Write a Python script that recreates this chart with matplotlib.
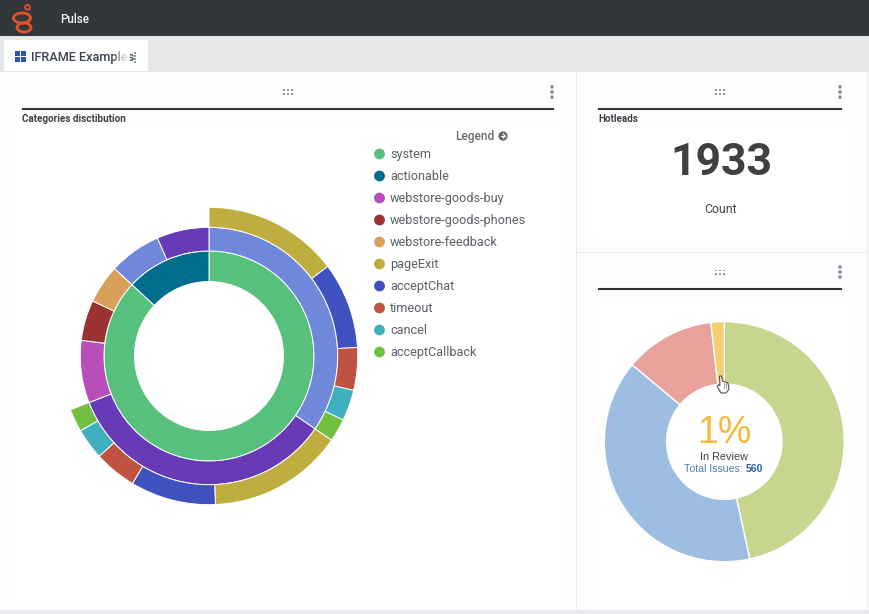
import matplotlib
matplotlib.use("Agg")
import matplotlib.pyplot as plt
from matplotlib.patches import Rectangle, Circle, Polygon, Ellipse

plt.rcParams['font.family'] = ['Roboto', 'DejaVu Sans']

W, H = 869, 614

# ---- data (in shares of a 360 unit whole) ----
legend_labels = ["system", "actionable", "webstore-goods-buy", "webstore-goods-phones",
                 "webstore-feedback", "pageExit", "acceptChat", "timeout", "cancel", "acceptCallback"]
legend_colors = ["#57c07c", "#006e8a", "#b84fb8", "#9a3232", "#d9a05b",
                 "#bfae3f", "#3f51bf", "#bf5240", "#40afbf", "#70bf40"]

ring1_values = [312.8, 47.2]
ring1_colors = ["#57c07c", "#006e8a"]

ring2_values = [124.5, 124.3, 28.2, 18.3, 17.5, 23.6, 23.6]
ring2_colors = ["#6f88d9", "#663bb5", "#b84fb8", "#9a3232", "#d9a05b", "#6f88d9", "#663bb5"]

ring3_values = [53.0, 33.7, 16.7, 12.1, 9.0, 53.0, 33.5, 16.6, 12.2, 9.0]
ring3_colors = ["#bfae3f", "#3f51bf", "#bf5240", "#40afbf", "#70bf40",
                "#bfae3f", "#3f51bf", "#bf5240", "#40afbf", "#70bf40"]

issue_values = [261, 221, 68, 10]
issue_colors = ["#c7d68e", "#9dbee2", "#e8a19b", "#f5cf6d"]

hotleads_value = "1933"
hotleads_label = "Count"
review_pct = "1%"
total_issues = "560"

fig = plt.figure(figsize=(W / 100, H / 100), dpi=100)
ax = fig.add_axes([0, 0, 1, 1])
ax.set_xlim(0, W)
ax.set_ylim(0, H)
ax.axis("off")


def Y(py):
    return H - py


def rect(x0, y0, x1, y1, color, z=1, alpha=None):
    ax.add_patch(Rectangle((x0, Y(y1)), x1 - x0, y1 - y0, fc=color, ec="none", zorder=z, alpha=alpha))


def hline(x0, x1, y, color, lw):
    ax.plot([x0, x1], [Y(y), Y(y)], color=color, lw=lw, solid_capstyle="butt", zorder=3)


def vline(x, y0, y1, color, lw):
    ax.plot([x, x], [Y(y0), Y(y1)], color=color, lw=lw, solid_capstyle="butt", zorder=3)


def txt(x, y, s, size, color, ha="left", z=6, **kw):
    ax.text(x, Y(y + 0.8), s, fontsize=size, color=color, ha=ha, va="center", zorder=z, **kw)


def grip(cx, cy):
    for dx in (-4, 0, 4):
        for dy in (-1.7, 1.7):
            ax.add_patch(Rectangle((cx + dx - 1.2, Y(cy + dy) - 0.8), 2.4, 1.6, fc="#8a94a3", ec="none", zorder=4))


def kebab(cx, cy):
    for dy in (-5, 0, 5):
        ax.add_patch(Circle((cx, Y(cy + dy)), 1.8, fc="#7f8ea0", ec="none", zorder=4))


# ---- page chrome ----
rect(0, 0, W, H, "#fdfdfe", 0)
rect(0, 0, W, 36, "#32373b")
rect(0, 36, W, 72, "#e5e7e7")
rect(4, 40, 148, 71, "#ffffff", 2)
rect(14, 125, 562, 597, "#ffffff", 1)
rect(593, 125, 850, 237, "#ffffff", 1)
rect(597, 300, 850, 597, "#ffffff", 1)
rect(0, 610, W, H, "#e9ebee", 2)
vline(575.5, 72, 610, "#e8eaf0", 0.72)
vline(866.5, 72, 610, "#e8eaf0", 0.72)
hline(575, 867, 251.5, "#e8eaf0", 0.72)

# logo
ax.add_patch(Ellipse((22, Y(18)), 17, 10, fc="none", ec="#e8502a", lw=2.0, zorder=5))
ax.add_patch(Ellipse((24, Y(27.5)), 14, 9, fc="none", ec="#e8502a", lw=2.0, zorder=5))
ax.add_patch(Circle((27.5, Y(7.3)), 2.4, fc="none", ec="#e8502a", lw=1.3, zorder=5))
txt(60, 19, "Pulse", 8.4, "#f2f2f2", weight="medium")

# tab
for (x, y) in [(15, 51), (21, 51), (15, 57), (21, 57)]:
    rect(x, y, x + 5, y + 5, "#2a55b5", 4)
txt(31, 57, "IFRAME Examples", 9.2, "#3b4450", z=4, weight="medium")
for i, a in enumerate([0.15, 0.3, 0.45, 0.6, 0.7, 0.8, 0.85, 0.9]):
    rect(114 + i * 2, 44, 116 + i * 2, 68, "#ffffff", 5, alpha=a)
for dy in (-5, -2, 1, 4):
    rect(134, 57 + dy, 135.5, 57 + dy + 1.5, "#7d9ac6", 5)

# panel headers
grip(288, 92)
kebab(552, 92)
hline(22, 554, 108.5, "#30343a", 1.5)
txt(22, 118, "Categories disctibution", 7.1, "#3d4147", weight="bold")

grip(720, 92)
kebab(840, 92)
hline(598, 842, 108.5, "#30343a", 1.5)
txt(598, 118, "Hotleads", 7.1, "#3d4147", weight="bold")

grip(720, 272)
kebab(840, 272)
hline(598, 842, 288.5, "#30343a", 1.5)

# ---- sunburst ----
cx, cy = 209, Y(356)
R0, R1, R2, R3 = 74.5, 105, 128.7, 148.7
for vals, cols, r_in, r_out in [(ring1_values, ring1_colors, R0, R1),
                                (ring2_values, ring2_colors, R1, R2),
                                (ring3_values, ring3_colors, R2, R3)]:
    ax.pie([v / 360 for v in vals], colors=cols, startangle=90, counterclock=False,
           radius=r_out, center=(cx, cy), normalize=False, frame=True,
           wedgeprops=dict(width=r_out - r_in, edgecolor="#ffffff", linewidth=0.7))

ax.set_xlim(0, W)
ax.set_ylim(0, H)
ax.set_aspect("auto")
ax.axis("off")

# ---- legend ----
txt(455, 135.5, "Legend", 8.6, "#666b70", weight="medium")
ax.add_patch(Circle((503, Y(136)), 4.6, fc="#5f6468", ec="none", zorder=5))
ax.plot([500.5, 505], [Y(136), Y(136)], color="white", lw=0.9, zorder=6)
ax.plot([503.2, 505.4, 503.2], [Y(134), Y(136), Y(138)], color="white", lw=0.9, zorder=6)
for i, (lab, col) in enumerate(zip(legend_labels, legend_colors)):
    py = 154 + i * 22
    ax.add_patch(Circle((379.5, Y(py)), 5.4, fc=col, ec="none", zorder=5))
    txt(390, py, lab, 9.1, "#5b5f66")

# ---- hotleads ----
txt(721, 162, hotleads_value, 32, "#404040", ha="center", weight="bold", stretch="condensed")
txt(721, 208.5, hotleads_label, 8.8, "#444444", ha="center")

# ---- donut ----
dx, dy = 724.3, Y(441.7)
ax.pie([v / sum(issue_values) for v in issue_values], colors=issue_colors, startangle=90,
       counterclock=False, radius=120, center=(dx, dy), frame=True,
       wedgeprops=dict(width=120 - 57.7, edgecolor="#ffffff", linewidth=1.0))
ax.set_xlim(0, W)
ax.set_ylim(0, H)
ax.set_aspect("auto")
ax.axis("off")

txt(724, 432, review_pct, 27, "#f6b93b", ha="center", family="Liberation Sans")
txt(724, 456, "In Review", 7.8, "#444444", ha="center", family="Liberation Sans")
txt(684, 468.5, "Total Issues:", 7.6, "#4d7fb8", family="Liberation Sans")
txt(746, 468.5, total_issues, 7.6, "#2d64a8", family="Liberation Sans", weight="bold")

# hand cursor
hand = [(719.5, 376), (721.5, 376), (722.5, 381), (728, 383), (729, 389), (726, 393), (721, 393),
        (717, 386), (719, 384.5), (720, 385.5)]
ax.add_patch(Polygon([(x, Y(y)) for x, y in hand], closed=True, fc="#ffffff", ec="#555555", lw=0.8, zorder=7))
for x in (723.5, 725.5):
    ax.plot([x, x], [Y(383), Y(388)], color="#777777", lw=0.5, zorder=8)

fig.savefig("out.png", dpi=100)
